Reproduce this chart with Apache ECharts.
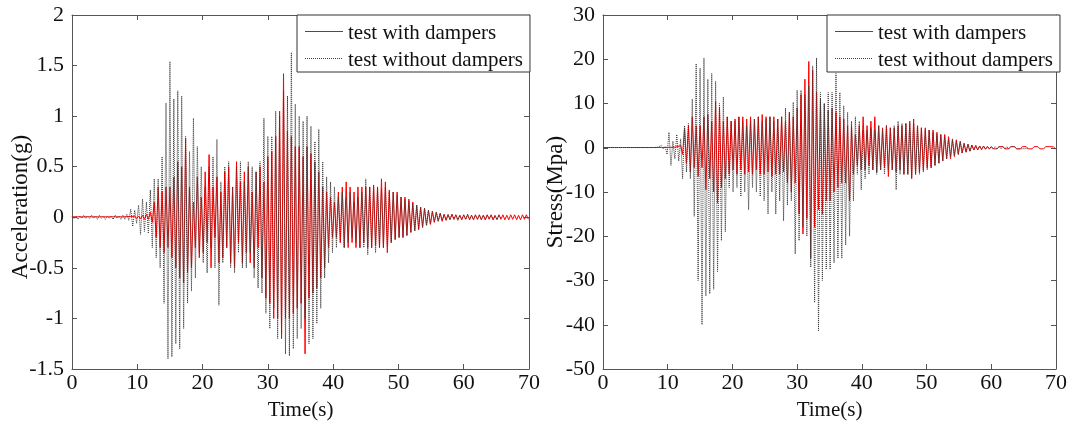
<!DOCTYPE html>
<html>
<head>
<meta charset="utf-8">
<script src="https://cdn.jsdelivr.net/npm/echarts@6/dist/echarts.min.js"></script>
<style>
html,body{margin:0;padding:0;background:#fff;}
#c{width:1070px;height:426px;}
</style>
</head>
<body>
<div id="c"></div>
<script>
// sampling grid (s)
const timeStart = 0;
const timeStep = 0.3;
const xTicks = [0, 10, 20, 30, 40, 50, 60, 70];
const seriesNames = ['test with dampers', 'test without dampers'];

// Acceleration (g), test without dampers
const accelWithout = [
0.01,-0.01,0.01,-0.02,0.01,-0.01,0.02,-0.01,0.01,-0.01,
0.02,-0.01,0.01,-0.02,0.02,-0.01,0.01,-0.02,0.01,-0.01,
0.01,-0.02,0.02,-0.01,0.01,-0.02,0.02,-0.02,0.03,-0.03,
0.08,-0.09,0.07,-0.06,0.12,-0.17,0.18,-0.14,0.15,-0.16,
0.27,-0.3,0.38,-0.4,0.38,-0.5,0.6,-0.85,1.13,-1.4,
1.54,-1.38,1.17,-1.25,1.25,-1.3,1.2,-1.1,0.8,-0.85,
0.65,-0.73,0.98,-0.6,0.7,-0.35,0.5,-0.45,0.3,-0.55,
0.5,-0.3,0.6,-0.5,0.77,-0.87,0.35,-0.45,0.5,-0.3,
0.55,-0.5,0.3,-0.55,0.5,-0.35,0.55,-0.5,0.35,-0.5,
0.55,-0.35,0.5,-0.6,0.45,-0.7,0.55,-0.75,0.98,-0.95,
0.8,-1.1,0.8,-0.9,1.05,-1.2,1.0,-1.15,1.25,-1.35,
1.2,-1.37,1.63,-1.3,1.12,-1.2,1.0,-1.1,0.95,-1.0,
1.0,-1.25,0.9,-1.2,0.75,-1.05,0.87,-0.9,0.55,-0.6,
0.4,-0.45,0.35,-0.35,0.3,-0.3,0.2,-0.25,0.25,-0.3,
0.2,-0.25,0.25,-0.2,0.15,-0.25,0.2,-0.3,0.25,-0.3,
0.38,-0.37,0.3,-0.3,0.3,-0.35,0.3,-0.3,0.28,-0.3,
0.3,-0.28,0.25,-0.25,0.25,-0.22,0.22,-0.2,0.2,-0.2,
0.18,-0.18,0.16,-0.15,0.14,-0.14,0.12,-0.12,0.1,-0.1,
0.09,-0.08,0.07,-0.07,0.06,-0.05,0.05,-0.04,0.04,-0.03,
0.03,-0.03,0.03,-0.02,0.03,-0.02,0.02,-0.03,0.02,-0.02,
0.02,-0.02,0.03,-0.02,0.02,-0.02,0.02,-0.02,0.02,-0.02,
0.02,-0.02,0.02,-0.01,0.02,-0.02,0.01,-0.02,0.02,-0.01
];

// Acceleration (g), test with dampers
const accelWith = [
0.005,-0.008,0.004,-0.006,0.005,-0.008,0.004,-0.006,0.005,-0.007,
0.004,-0.008,0.005,-0.006,0.004,-0.008,0.005,-0.007,0.004,-0.006,
0.005,-0.008,0.004,-0.007,0.005,-0.006,0.004,-0.008,0.006,-0.01,
0.008,-0.01,0.01,-0.012,0.01,-0.015,0.02,-0.02,0.03,-0.02,
0.05,-0.05,0.15,-0.2,0.3,-0.3,0.25,-0.35,0.3,-0.3,
0.3,-0.4,0.4,-0.5,0.55,-0.6,0.5,-0.65,0.78,-0.55,
0.3,-0.5,0.15,-0.3,0.4,-0.4,0.2,-0.35,0.45,-0.25,
0.62,-0.5,0.3,-0.2,0.4,-0.45,0.25,-0.4,0.45,-0.3,
0.5,-0.45,0.3,-0.5,0.55,-0.25,0.35,-0.45,0.45,-0.35,
0.5,-0.45,0.25,-0.5,0.45,-0.3,0.5,-0.6,0.35,-0.8,
0.6,-0.85,0.65,-1.0,0.8,-1.0,1.05,-1.2,1.42,-1.0,
0.85,-1.0,0.8,-0.95,0.7,-0.9,0.7,-0.85,0.6,-1.35,
0.7,-0.8,0.63,-0.75,0.55,-0.7,0.45,-0.6,0.3,-0.5,
0.25,-0.3,0.2,-0.2,0.15,-0.2,0.25,-0.25,0.3,-0.3,
0.35,-0.3,0.3,-0.25,0.25,-0.3,0.3,-0.3,0.3,-0.25,
0.3,-0.3,0.3,-0.3,0.32,-0.28,0.3,-0.3,0.38,-0.3,
0.35,-0.35,0.27,-0.25,0.25,-0.22,0.25,-0.2,0.2,-0.2,
0.2,-0.18,0.18,-0.15,0.15,-0.13,0.12,-0.12,0.1,-0.1,
0.09,-0.08,0.07,-0.07,0.06,-0.05,0.05,-0.04,0.04,-0.04,
0.03,-0.03,0.025,-0.025,0.03,-0.02,0.025,-0.025,0.02,-0.025,
0.025,-0.02,0.025,-0.025,0.02,-0.025,0.025,-0.02,0.025,-0.025,
0.02,-0.025,0.025,-0.02,0.025,-0.025,0.02,-0.025,0.025,-0.02,
0.025,-0.025,0.02,-0.025,0.025,-0.02,0.025,-0.025,0.02,-0.025,
0.025,-0.02,0.025,-0.02
];

// Stress (MPa), test without dampers
const stressWithout = [
0.05,-0.05,0.05,-0.05,0.05,-0.05,0.05,-0.05,0.05,-0.05,
0.05,-0.05,0.05,-0.05,0.05,-0.05,0.05,-0.05,0.05,-0.05,
0.05,-0.05,0.05,-0.05,0.05,-0.05,0.05,-0.05,0.1,-0.1,
0.5,-0.2,0.3,-1.5,3.5,-4,1.5,-2.5,3,-3,
2,-7,5,-5.5,5.5,-7,11,-15.5,19,-30,
18,-40,20.3,-33.5,15.5,-33,16.8,-32,15,-28,
10,-21,11.5,-19,7,-9,6,-10,6,-9,
7,-11,6,-10,5,-14,6,-9,6.5,-10,
7,-11,6,-12,6.5,-15,7,-10,6,-15,
6.5,-12,7,-16.5,9,-13,8,-12,10.3,-24,
13,-21,13,-18,12,-20,14,-27,18.5,-35,
20.3,-41.5,12.5,-30,10,-27.5,12.5,-27.5,12.5,-26,
16.8,-25,12.5,-25,9.5,-22,8,-20,6,-12,
7,-6,6,-9.5,4,-7,4,-6,4.5,-5,
4,-6,5,-5,4,-6,5,-5,4.5,-5,
5,-9.5,6,-6,5.5,-6,5.5,-6,5.5,-6.5,
5.5,-6,5,-6,4.5,-5.5,4,-5,4,-4.5,
3.5,-4,3,-3.5,3,-3,2.5,-2.5,2,-2,
1.8,-1.8,1.5,-1.5,1.2,-1.2,1,-1,0.8,-0.8,
0.6,-0.6,0.5,-0.5,0.4,-0.4,0.4,-0.3,0.3,-0.3,
0.3,-0.3,0.25,-0.3,0.3,-0.25,0.3,-0.3,0.25,-0.25,
0.25,-0.2,0.25,-0.25,0.2,-0.25,0.2,-0.2,0.2,-0.2
];

// Stress (MPa), test with dampers
const stressWith = [
0.05,-0.05,0.05,-0.05,0.05,-0.05,0.05,-0.05,0.05,-0.05,
0.05,-0.05,0.05,-0.05,0.05,-0.05,0.05,-0.05,0.05,-0.05,
0.05,-0.05,0.05,-0.05,0.05,-0.05,0.05,-0.05,0.05,-0.05,
0.05,-0.05,0.05,-0.05,0.1,-0.1,0.1,-0.1,0.2,-0.2,
0.5,-1.5,4.5,-3.5,5,-5.5,7,-4.5,5,-6.5,
5,-4.5,7,-9.5,7.5,-7,6,-10,10.5,-12.5,
9,-9,6,-7,7,-6,6,-5,6.5,-6,
7,-5,7,-6,6.5,-5.5,7,-6,6.5,-5,
7,-6,7.5,-6,7,-5.5,7,-6.5,7,-6,
6.5,-6,7,-5.5,6,-8,8,-10,7,-8,
9,-15,12,-19.5,15.5,-16,19.5,-25,17.5,-18,
12.5,-14,11,-15,10,-12,8.5,-12,9,-10,
8,-9,7,-8,6.5,-8,5,-12,5,-6,
3,-4,5,-5,7,-5,5,-4,6,-5,
7,-5.5,5,-5,4.5,-4.5,5,-6.5,4.5,-5,
4.5,-5.5,5,-5,5,-6,5.5,-6,6,-7,
6.5,-6,5,-5.5,4.5,-5,4.5,-4.5,4,-4.5,
4,-4,3.5,-3.5,3,-3,3,-2.5,2.5,-2.5,
2,-2,1.8,-1.5,1.5,-1.2,1,-1,0.8,-0.8,
0.6,-0.5,0.5,-0.5,0.4,-0.4,0.4,-0.35,0.3,-0.3,
0.25,-0.25,0.2,-0.25,0.25,-0.2,0.25,-0.25,0.2,-0.25,
0.25,-0.2,0.25,-0.25,0.2,-0.25,0.25,-0.2,0.25,-0.25,
0.2,-0.25,0.25,-0.2,0.25,-0.25,0.2,-0.25,0.25,-0.2,
0.25,-0.2,0.2,-0.2
];

function toPairs(values) {
  return values.map(function (v, i) {
    return [Math.round((timeStart + i * timeStep) * 1000) / 1000, v];
  });
}

const FONT = 'Liberation Serif';
const AXIS_COLOR = '#555';
const TEXT_COLOR = '#111';
const RED = '#ff0000';
const BLACK = '#3a3a3a';

function xAxes(gridIndex) {
  const common = {
    type: 'value', gridIndex: gridIndex, min: xTicks[0], max: xTicks[xTicks.length - 1], interval: 10,
    axisLine: { show: true, onZero: false, lineStyle: { color: AXIS_COLOR, width: 1 } },
    axisTick: { show: true, inside: true, length: 5, lineStyle: { color: AXIS_COLOR } },
    splitLine: { show: false }
  };
  return [
    Object.assign({}, common, {
      position: 'bottom',
      name: 'Time(s)', nameLocation: 'middle', nameGap: 31, nameMoveOverlap: false,
      nameTextStyle: { fontFamily: FONT, fontSize: 21, color: TEXT_COLOR },
      axisLabel: { show: true, fontFamily: FONT, fontSize: 22, color: TEXT_COLOR, margin: 3 }
    }),
    Object.assign({}, common, { position: 'top', axisLabel: { show: false } })
  ];
}

function yAxes(gridIndex, min, max, interval, name, nameGap, pad) {
  const common = {
    type: 'value', gridIndex: gridIndex, min: min, max: max, interval: interval,
    axisLine: { show: true, onZero: false, lineStyle: { color: AXIS_COLOR, width: 1 } },
    axisTick: { show: true, inside: true, length: 5, lineStyle: { color: AXIS_COLOR } },
    splitLine: { show: false }
  };
  return [
    Object.assign({}, common, {
      position: 'left',
      name: name, nameLocation: 'middle', nameGap: nameGap, nameMoveOverlap: false,
      nameTextStyle: { fontFamily: FONT, fontSize: 23, color: TEXT_COLOR, padding: pad },
      axisLabel: { show: true, fontFamily: FONT, fontSize: 22, color: TEXT_COLOR, margin: 8 }
    }),
    Object.assign({}, common, { position: 'right', axisLabel: { show: false } })
  ];
}

const LEGEND_LEFT = [297, 827];

function legendAt(left) {
  return {
    left: left, top: 15, orient: 'vertical',
    data: [
      { name: seriesNames[0], icon: 'none' },
      { name: seriesNames[1], icon: 'none' }
    ],
    itemWidth: 38, itemHeight: 1, itemGap: 6,
    backgroundColor: '#fff', borderColor: '#333', borderWidth: 1,
    padding: [8, 7, 1, 8],
    textStyle: { fontFamily: FONT, fontSize: 21, color: TEXT_COLOR }
  };
}

// legend key samples (solid red line, dotted dark line)
function legendKeys(left) {
  const x1 = left + 8, x2 = left + 46;
  return [
    { type: 'line', z: 100, shape: { x1: x1, y1: 31.5, x2: x2, y2: 31.5 },
      style: { stroke: RED, lineWidth: 1 } },
    { type: 'line', z: 100, shape: { x1: x1, y1: 58.5, x2: x2, y2: 58.5 },
      style: { stroke: '#444', lineWidth: 1, lineDash: [1, 1] } }
  ];
}

const chart = echarts.init(document.getElementById('c'), null, { renderer: 'canvas' });
const blackStyle = { color: BLACK, width: 1, type: 'dotted' };
const redStyle = { color: RED, width: 1, type: 'solid' };

chart.setOption({
  animation: false,
  backgroundColor: '#fff',
  grid: [
    { left: 72, right: 541, top: 15, bottom: 51 },
    { left: 603, right: 10, top: 15, bottom: 51 }
  ],
  legend: [legendAt(LEGEND_LEFT[0]), legendAt(LEGEND_LEFT[1])],
  graphic: legendKeys(LEGEND_LEFT[0]).concat(legendKeys(LEGEND_LEFT[1])),
  xAxis: xAxes(0).concat(xAxes(1)),
  yAxis: yAxes(0, -1.5, 2, 0.5, 'Acceleration(g)', 40, [0, 30, 0, 0])
    .concat(yAxes(1, -50, 30, 10, 'Stress(Mpa)', 36, [0, 0, 0, 0])),
  series: [
    { name: seriesNames[0], type: 'line', xAxisIndex: 0, yAxisIndex: 0, data: toPairs(accelWith),
      showSymbol: false, symbol: 'none', lineStyle: redStyle, itemStyle: { color: RED }, z: 2 },
    { name: seriesNames[1], type: 'line', xAxisIndex: 0, yAxisIndex: 0, data: toPairs(accelWithout),
      showSymbol: false, symbol: 'none', lineStyle: blackStyle, itemStyle: { color: BLACK }, z: 3 },
    { name: seriesNames[0], type: 'line', xAxisIndex: 2, yAxisIndex: 2, data: toPairs(stressWith),
      showSymbol: false, symbol: 'none', lineStyle: redStyle, itemStyle: { color: RED }, z: 2 },
    { name: seriesNames[1], type: 'line', xAxisIndex: 2, yAxisIndex: 2, data: toPairs(stressWithout),
      showSymbol: false, symbol: 'none', lineStyle: blackStyle, itemStyle: { color: BLACK }, z: 3 }
  ]
});
</script>
</body>
</html>
